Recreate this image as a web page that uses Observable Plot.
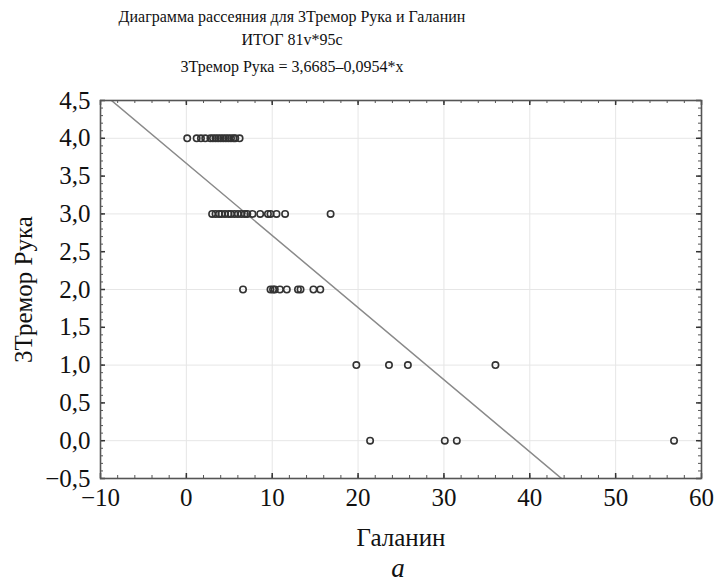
<!DOCTYPE html>
<html>
<head>
<meta charset="utf-8">
<script src="https://cdn.jsdelivr.net/npm/d3@7"></script>
<script src="https://cdn.jsdelivr.net/npm/@observablehq/plot@0.6"></script>
<style>
  html, body { margin: 0; padding: 0; background: #fff; }
  #wrap { width: 717px; height: 583px; position: relative; font-family: "Liberation Serif", "Times New Roman", serif; color: #111; }
  #titles { position: relative; height: 88px; }
  #titles div { position: absolute; left: 0; width: 584px; text-align: center; font-size: 16px; line-height: 20px; white-space: nowrap; }
  #caption { position: absolute; left: 0; top: 553px; width: 796px; text-align: center; font-size: 27px; font-style: italic; line-height: 30px; }
  svg { display: block; }
</style>
</head>
<body>
<div id="wrap">
  <div id="titles">
    <div id="t1" style="top:7px"></div>
    <div id="t2" style="top:30px"></div>
    <div id="t3" style="top:57px"></div>
  </div>
  <div id="chart"></div>
  <div id="caption"></div>
</div>
<script>
// ---- Text ----
const titleLines = [
  "Диаграмма рассеяния для 3Тремор Рука и Галанин",
  "ИТОГ 81v*95c",
  "3Тремор Рука = 3,6685–0,0954*x"
];
const xLabel = "Галанин";
const yLabel = "3Тремор Рука";
const captionText = "а";

// ---- Regression (from the chart's equation) ----
const intercept = 3.6685;
const slope = -0.0954;

// ---- Data: Галанин values read per tremor level ----
const tremorLevels = [4, 3, 2, 1, 0];
const galaninAt4 = [0.1, 1.2, 1.7, 2.2, 2.8, 3.1, 3.4, 3.7, 4.0, 4.3, 4.6, 4.9, 5.2, 5.5, 5.7, 6.2];
const galaninAt3 = [3.0, 3.4, 3.8, 4.1, 4.5, 4.9, 5.2, 5.6, 6.0, 6.4, 6.8, 7.1, 7.7, 8.6, 9.5, 9.8, 10.5, 11.5, 16.8];
const galaninAt2 = [6.6, 9.8, 10.1, 10.3, 10.9, 11.7, 13.0, 13.3, 14.8, 15.6];
const galaninAt1 = [19.8, 23.6, 25.8, 36.0];
const galaninAt0 = [21.4, 30.1, 31.5, 56.8];

// ---- Axes ----
const xDomain = [-10, 60];
const yDomain = [-0.5, 4.5];
const xTicks = [-10, 0, 10, 20, 30, 40, 50, 60];
const yTicks = [-0.5, 0, 0.5, 1, 1.5, 2, 2.5, 3, 3.5, 4, 4.5];
const xGridValues = [0, 10, 20, 30, 40, 50];
const yGridValues = [0, 1, 2, 3, 4];
const xMinorStep = 2;
const yMinorStep = 0.1;

// build table
const groups = [galaninAt4, galaninAt3, galaninAt2, galaninAt1, galaninAt0];
const points = [];
groups.forEach((g, i) => g.forEach(v => points.push({galanin: v, tremor: tremorLevels[i]})));

const xMinor = d3.range(xDomain[0], xDomain[1] + 1e-9, xMinorStep);
const yMinor = d3.range(0, Math.round((yDomain[1] - yDomain[0]) / yMinorStep) + 1).map(i => +(yDomain[0] + i * yMinorStep).toFixed(2));
const regLine = xDomain.map(x => ({galanin: x, tremor: intercept + slope * x}));

const fmtX = d => (d < 0 ? "−" : "") + Math.abs(d);
const fmtY = d => (d < 0 ? "−" : "") + Math.abs(d).toFixed(1).replace(".", ",");

document.getElementById("t1").textContent = titleLines[0];
document.getElementById("t2").textContent = titleLines[1];
document.getElementById("t3").textContent = titleLines[2];
document.getElementById("caption").textContent = captionText;

const W = 717, H = 465, mL = 100, mR = 16, mT = 12, mB = 75;
const fw = W - mL - mR, fh = H - mT - mB;
const axisColor = "#555";

const chart = Plot.plot({
  width: W, height: H,
  marginLeft: mL, marginRight: mR, marginTop: mT, marginBottom: mB,
  x: {domain: xDomain},
  y: {domain: yDomain},
  style: {fontFamily: "Liberation Serif, Times New Roman, serif", background: "white", color: "#111"},
  marks: [
    Plot.gridX(xGridValues, {stroke: "#e6e6e6", strokeOpacity: 1, strokeWidth: 1}),
    Plot.gridY(yGridValues, {stroke: "#e6e6e6", strokeOpacity: 1, strokeWidth: 1}),
    // inward minor ticks on all four sides
    Plot.tickX(xMinor, {x: d => d, insetTop: fh - 3, stroke: axisColor, strokeWidth: 1}),
    Plot.tickX(xMinor, {x: d => d, insetBottom: fh - 3, stroke: axisColor, strokeWidth: 1}),
    Plot.tickY(yMinor, {y: d => d, insetRight: fw - 3, stroke: axisColor, strokeWidth: 1}),
    Plot.tickY(yMinor, {y: d => d, insetLeft: fw - 3, stroke: axisColor, strokeWidth: 1}),
    // major ticks slightly longer
    Plot.tickX(xTicks, {x: d => d, insetTop: fh - 5, stroke: "#333", strokeWidth: 1.5}),
    Plot.tickX(xTicks, {x: d => d, insetBottom: fh - 5, stroke: "#333", strokeWidth: 1.5}),
    Plot.tickY(yTicks, {y: d => d, insetRight: fw - 5, stroke: "#333", strokeWidth: 1.5}),
    Plot.tickY(yTicks, {y: d => d, insetLeft: fw - 5, stroke: "#333", strokeWidth: 1.5}),
    Plot.line(regLine, {x: "galanin", y: "tremor", stroke: "#8a8a8a", strokeWidth: 1.5, clip: true}),
    Plot.dot(points, {x: "galanin", y: "tremor", r: 3.2, stroke: "#333", strokeWidth: 1.6, fill: "none"}),
    Plot.frame({stroke: axisColor, strokeWidth: 1.6}),
    Plot.axisX(xTicks, {tickSize: 0, tickPadding: 10, fontSize: 25, tickFormat: fmtX, label: null, fill: "#111"}),
    Plot.axisY(yTicks, {tickSize: 0, tickPadding: 10, fontSize: 25, tickFormat: fmtY, label: null, fill: "#111"}),
    Plot.text([xLabel], {frameAnchor: "bottom", dy: 59, fontSize: 25, fill: "#111", textAnchor: "middle", lineAnchor: "middle"}),
    Plot.text([yLabel], {frameAnchor: "left", dx: -77, rotate: -90, fontSize: 25, fill: "#111", textAnchor: "middle", lineAnchor: "middle"})
  ]
});
document.getElementById("chart").appendChild(chart);
</script>
</body>
</html>
